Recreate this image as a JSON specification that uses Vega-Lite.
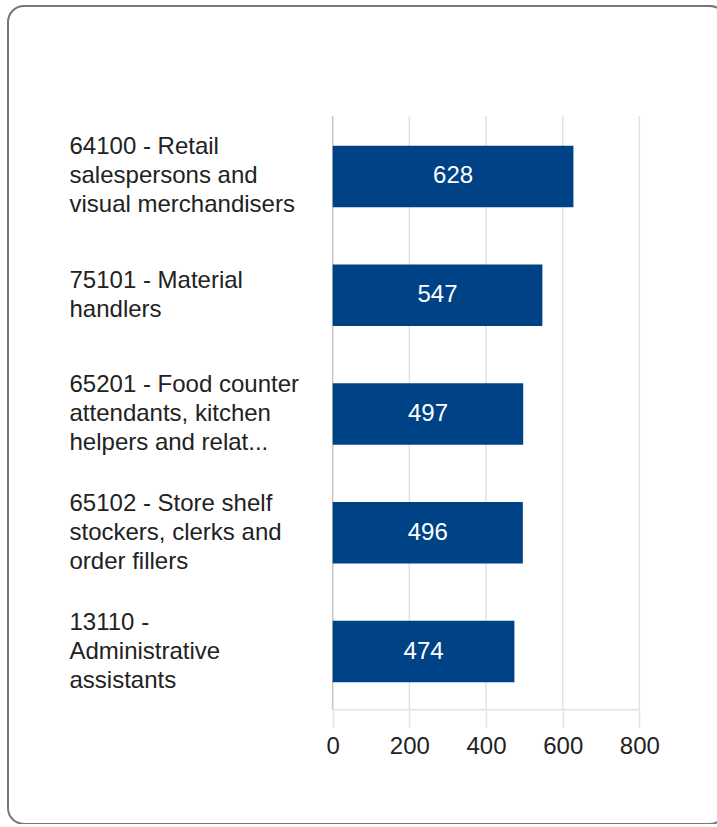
{
  "$schema": "https://vega.github.io/schema/vega-lite/v6.json",
  "width": 718,
  "height": 818,
  "autosize": {"type": "none"},
  "padding": {"left": 8, "top": 6, "right": -9, "bottom": 0},
  "background": "white",
  "config": {
    "font": "Arial, Liberation Sans, sans-serif",
    "view": {"stroke": "#777777", "strokeWidth": 2, "cornerRadius": 16, "fill": "white"}
  },
  "datasets": {
    "jobs": [
      {"occupation": "64100 - Retail\nsalespersons and\nvisual merchandisers", "count": 628},
      {"occupation": "75101 - Material\nhandlers", "count": 547},
      {"occupation": "65201 - Food counter\nattendants, kitchen\nhelpers and relat...", "count": 497},
      {"occupation": "65102 - Store shelf\nstockers, clerks and\norder fillers", "count": 496},
      {"occupation": "13110 -\nAdministrative\nassistants", "count": 474}
    ],
    "grid": [{"tick": 0}, {"tick": 200}, {"tick": 400}, {"tick": 600}, {"tick": 800}]
  },
  "resolve": {"scale": {"x": "independent"}, "axis": {"x": "independent"}},
  "layer": [
    {
      "data": {"name": "grid"},
      "mark": {"type": "rule", "strokeWidth": 1.5, "yOffset": -60.45, "y2Offset": 58.25},
      "encoding": {
        "x": {"field": "tick", "type": "quantitative", "scale": {"domain": [-847, 1026], "nice": false, "zero": false}, "axis": null},
        "y": {"datum": "64100 - Retail\nsalespersons and\nvisual merchandisers", "type": "nominal"},
        "y2": {"datum": "13110 -\nAdministrative\nassistants"},
        "color": {"condition": {"test": "datum.tick === 0", "value": "#c6c6c6"}, "value": "#e2e2e2"}
      }
    },
    {
      "data": {"name": "grid"},
      "transform": [{"filter": "datum.tick === 800"}],
      "mark": {"type": "rule", "strokeWidth": 1.5, "yOffset": 58.25, "color": "#e2e2e2"},
      "encoding": {
        "x": {"field": "tick", "type": "quantitative", "scale": {"domain": [-847, 1026], "nice": false, "zero": false}, "axis": null},
        "x2": {"datum": 0},
        "y": {"datum": "13110 -\nAdministrative\nassistants", "type": "nominal"}
      }
    },
    {
      "data": {"name": "jobs"},
      "mark": {"type": "bar", "color": "#004286"},
      "encoding": {
        "x": {
          "field": "count", "type": "quantitative",
          "scale": {"domain": [-847, 1026], "nice": false, "zero": false},
          "axis": {
            "orient": "bottom", "offset": -114, "values": [0, 200, 400, 600, 800],
            "domain": false, "grid": false, "title": null,
            "ticks": true, "tickSize": 17, "tickColor": "#e2e2e2", "tickWidth": 1.5,
            "labelFontSize": 24, "labelColor": "#222222", "labelPadding": 7, "labelFlush": false
          }
        },
        "y": {
          "field": "occupation", "type": "nominal", "sort": null,
          "scale": {
            "domain": [
              "64100 - Retail\nsalespersons and\nvisual merchandisers",
              "75101 - Material\nhandlers",
              "65201 - Food counter\nattendants, kitchen\nhelpers and relat...",
              "65102 - Store shelf\nstockers, clerks and\norder fillers",
              "13110 -\nAdministrative\nassistants"
            ],
            "range": [111, 705],
            "paddingInner": 0.482, "paddingOuter": 0.241
          },
          "axis": {
            "title": null, "domain": false, "ticks": false, "tickSize": 0, "grid": false,
            "labelAlign": "left", "labelBaseline": "middle", "labelPadding": -61,
            "labelFontSize": 24, "labelLineHeight": 29, "labelColor": "#222222",
            "labelLimit": 0, "labelOverlap": false,
            "labelOffset": {"condition": {"test": "length(split(datum.value, '\\n')) === 3", "value": -29}, "value": -14.5},
            "labelExpr": "split(datum.value, '\\n')"
          }
        }
      }
    },
    {
      "data": {"name": "jobs"},
      "mark": {"type": "text", "color": "white", "fontSize": 24, "align": "center", "baseline": "middle"},
      "encoding": {
        "x": {"field": "count", "type": "quantitative", "scale": {"domain": [-1694, 2052], "nice": false, "zero": false}, "axis": null},
        "y": {"field": "occupation", "type": "nominal", "sort": null},
        "text": {"field": "count", "type": "quantitative"}
      }
    }
  ]
}
